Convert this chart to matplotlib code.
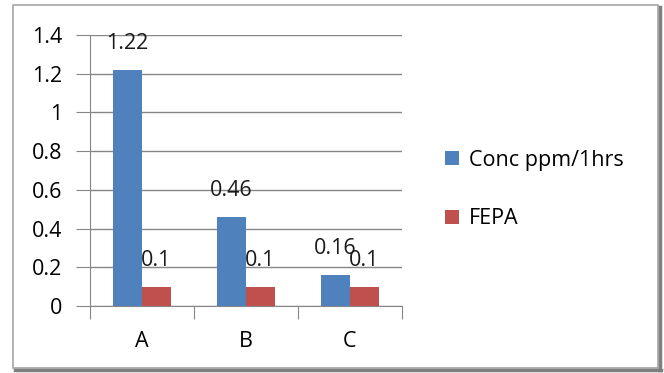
import matplotlib
matplotlib.use("Agg")
import matplotlib.pyplot as plt
from matplotlib.patches import Rectangle
from matplotlib.lines import Line2D

categories = ["A", "B", "C"]
conc = [1.22, 0.46, 0.16]
fepa = [0.1, 0.1, 0.1]
series_names = ["Conc ppm/1hrs", "FEPA"]
yticks = [0, 0.2, 0.4, 0.6, 0.8, 1, 1.2, 1.4]

COLORS = ["#4F81BD", "#C0504D"]
GRID = "#868686"
FS = 15.5

plt.rcParams["font.family"] = ["Open Sans", "DejaVu Sans"]

fig = plt.figure(figsize=(6.64, 3.73), dpi=100)
fig.patch.set_facecolor("white")

# outer chart border, shadow on right and bottom
W, H = 664, 373
fig.add_artist(Rectangle((13 / W, 1 - 368 / H), 645 / W, 363 / H,
                         transform=fig.transFigure, facecolor="white",
                         edgecolor="#a6a6a6", linewidth=1.2, zorder=0))
fig.add_artist(Line2D([660 / W, 660 / W], [1 - 370 / H, 1 - 7 / H],
                      transform=fig.transFigure, color="#7f7f7f", linewidth=2.5))
fig.add_artist(Line2D([15 / W, 661 / W], [1 - 370 / H, 1 - 370 / H],
                      transform=fig.transFigure, color="#7f7f7f", linewidth=2.5))

ax = fig.add_axes([90 / W, 67 / H, 312 / W, 271 / H])
ax.set_facecolor("none")

x = list(range(len(categories)))
w = 0.28
b1 = ax.bar([i - w / 2 for i in x], conc, width=w, color=COLORS[0], label=series_names[0], zorder=3)
b2 = ax.bar([i + w / 2 for i in x], fepa, width=w, color=COLORS[1], label=series_names[1], zorder=3)

for bars, vals in ((b1, conc), (b2, fepa)):
    for r, v in zip(bars, vals):
        ax.annotate(f"{v:g}", (r.get_x() + r.get_width() / 2, v),
                    xytext=(0, 19), textcoords="offset points",
                    ha="center", va="center", fontsize=FS, color="#1a1a1a")

ax.set_xlim(-0.5, 2.5)
ax.set_ylim(0, 1.4)
ax.set_yticks(yticks)
ax.set_yticklabels([f"{t:g}" for t in yticks], fontsize=FS)
ax.yaxis.grid(True, color=GRID, linewidth=1)
ax.set_axisbelow(True)

ax.set_xticks([-0.5, 0.5, 1.5, 2.5])
ax.set_xticklabels([])
ax.set_xticks(x, minor=True)
ax.set_xticklabels(categories, minor=True, fontsize=FS)
ax.tick_params(axis="x", which="minor", length=0, pad=18)
ax.tick_params(axis="x", which="major", length=9, color=GRID, direction="out")
ax.tick_params(axis="y", length=10, color=GRID, pad=10)

for s in ("top", "right"):
    ax.spines[s].set_visible(False)
for s in ("left", "bottom"):
    ax.spines[s].set_color(GRID)

ax.legend(loc="center left", bbox_to_anchor=(1.138, 0.43), frameon=False,
          fontsize=FS, handlelength=0.65, handleheight=0.65, labelspacing=1.75,
          handletextpad=0.45, borderpad=0, borderaxespad=0)

fig.savefig("out.png", dpi=100)
